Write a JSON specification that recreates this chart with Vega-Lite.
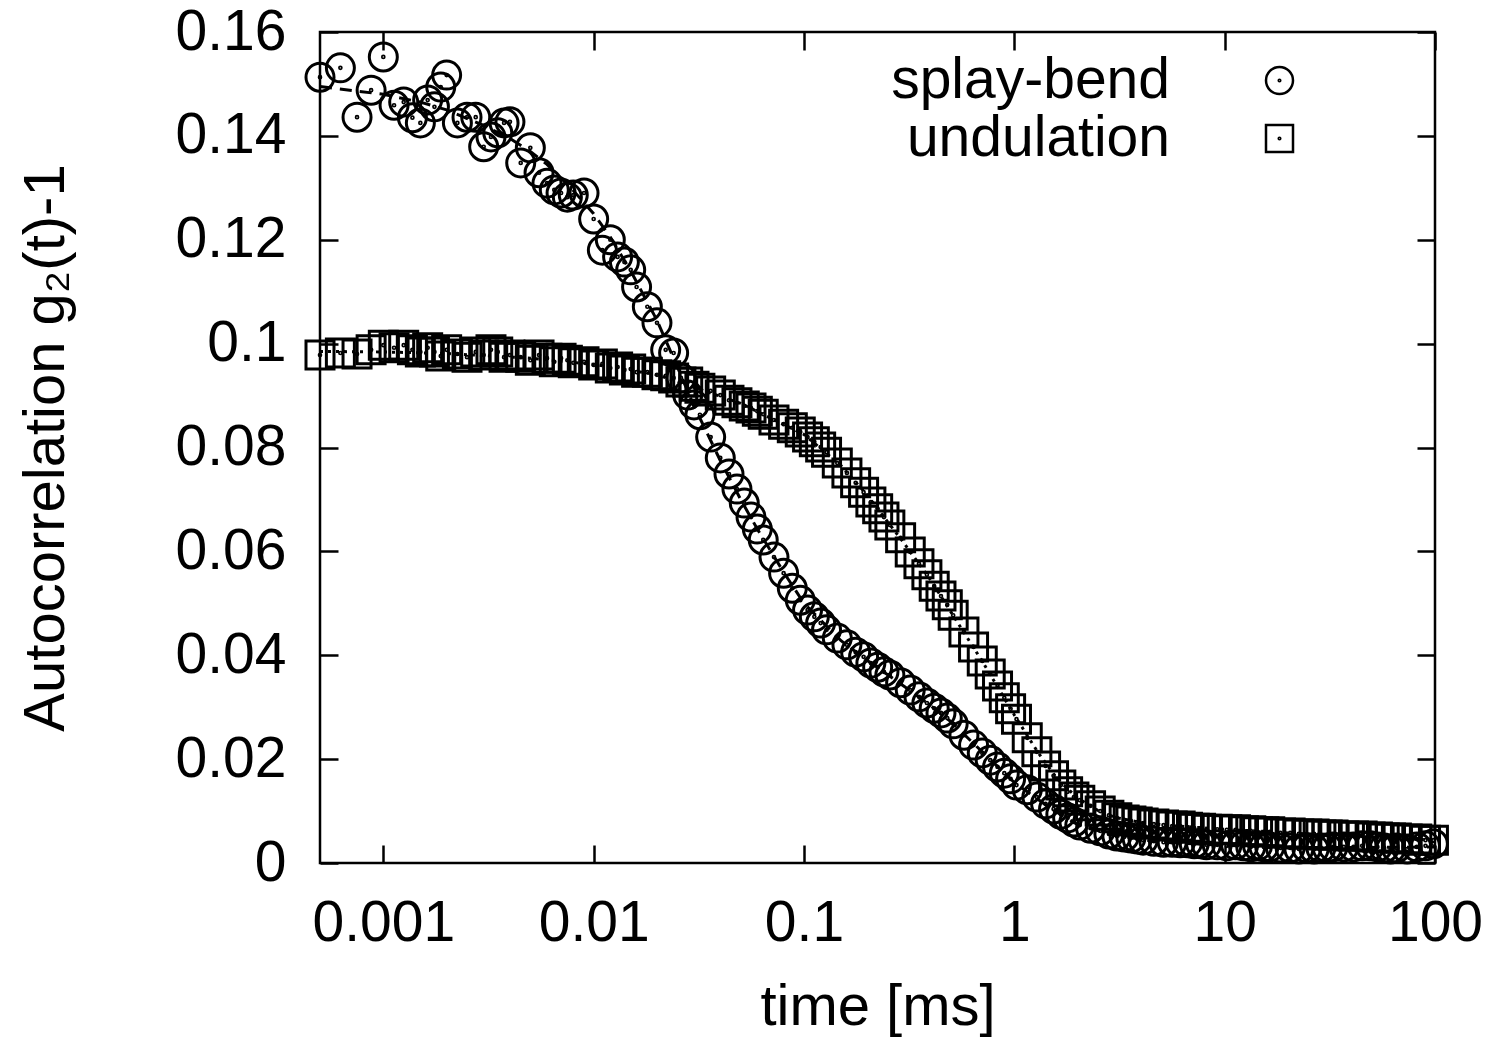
{
"$schema": "https://vega.github.io/schema/vega-lite/v6.json",
"width": 1115, "height": 831,
"autosize": "none",
"padding": {"left": 320, "top": 32, "right": 59, "bottom": 186},
"background": "white",
"config": {
 "view": {"stroke": "black", "strokeWidth": 2.5},
 "font": "Liberation Sans",
 "axis": {"grid": false, "domain": false, "tickColor": "black", "tickWidth": 2.5, "tickSize": -18, "labelColor": "black", "titleColor": "black", "labelFont": "Liberation Sans", "titleFont": "Liberation Sans", "labelFontSize": 57, "titleFontSize": 58, "titleFontWeight": "normal", "labelFlush": false, "labelOverlap": false},
 "legend": {"labelFont": "Liberation Sans", "labelFontSize": 57, "labelColor": "black", "labelLimit": 500}
},
"datasets": {
 "pts": [
 {"series":"splay-bend","t":0.0005,"g":0.1513},{"series":"splay-bend","t":0.000625,"g":0.1531},{"series":"splay-bend","t":0.00075,"g":0.1436},{"series":"splay-bend","t":0.000875,"g":0.1488},{"series":"splay-bend","t":0.001,"g":0.1552},{"series":"splay-bend","t":0.001125,"g":0.1459},{"series":"splay-bend","t":0.00125,"g":0.1465},{"series":"splay-bend","t":0.001375,"g":0.1435},{"series":"splay-bend","t":0.0015,"g":0.1425},{"series":"splay-bend","t":0.001625,"g":0.1469},{"series":"splay-bend","t":0.00175,"g":0.1456},{"series":"splay-bend","t":0.001875,"g":0.1494},{"series":"splay-bend","t":0.002,"g":0.1517},
 {"series":"splay-bend","t":0.00225,"g":0.1425},{"series":"splay-bend","t":0.0025,"g":0.1436},{"series":"splay-bend","t":0.00275,"g":0.1436},{"series":"splay-bend","t":0.003,"g":0.1379},{"series":"splay-bend","t":0.00325,"g":0.1398},{"series":"splay-bend","t":0.0035,"g":0.1406},{"series":"splay-bend","t":0.00375,"g":0.1425},{"series":"splay-bend","t":0.004,"g":0.1427},
 {"series":"splay-bend","t":0.0045,"g":0.1348},{"series":"splay-bend","t":0.005,"g":0.1377},{"series":"splay-bend","t":0.0055,"g":0.1329},{"series":"splay-bend","t":0.006,"g":0.1309},{"series":"splay-bend","t":0.0065,"g":0.1296},{"series":"splay-bend","t":0.007,"g":0.129},{"series":"splay-bend","t":0.0075,"g":0.1282},{"series":"splay-bend","t":0.008,"g":0.1286},
 {"series":"splay-bend","t":0.009,"g":0.129},{"series":"splay-bend","t":0.01,"g":0.124},{"series":"splay-bend","t":0.011,"g":0.118},{"series":"splay-bend","t":0.012,"g":0.12},{"series":"splay-bend","t":0.013,"g":0.1167},{"series":"splay-bend","t":0.014,"g":0.1157},{"series":"splay-bend","t":0.015,"g":0.1142},{"series":"splay-bend","t":0.016,"g":0.1109},
 {"series":"splay-bend","t":0.018,"g":0.1071},{"series":"splay-bend","t":0.02,"g":0.104},{"series":"splay-bend","t":0.022,"g":0.0988},{"series":"splay-bend","t":0.024,"g":0.0982},{"series":"splay-bend","t":0.026,"g":0.0934},{"series":"splay-bend","t":0.028,"g":0.0901},{"series":"splay-bend","t":0.03,"g":0.0882},{"series":"splay-bend","t":0.032,"g":0.0863},
 {"series":"splay-bend","t":0.036,"g":0.082},{"series":"splay-bend","t":0.04,"g":0.078},{"series":"splay-bend","t":0.044,"g":0.0749},{"series":"splay-bend","t":0.048,"g":0.072},{"series":"splay-bend","t":0.052,"g":0.0693},{"series":"splay-bend","t":0.056,"g":0.0666},{"series":"splay-bend","t":0.06,"g":0.0643},{"series":"splay-bend","t":0.064,"g":0.0622},
 {"series":"splay-bend","t":0.072,"g":0.0589},{"series":"splay-bend","t":0.08,"g":0.0558},{"series":"splay-bend","t":0.088,"g":0.0529},{"series":"splay-bend","t":0.096,"g":0.0506},{"series":"splay-bend","t":0.104,"g":0.0487},{"series":"splay-bend","t":0.112,"g":0.0474},{"series":"splay-bend","t":0.12,"g":0.0462},{"series":"splay-bend","t":0.128,"g":0.0449},
 {"series":"splay-bend","t":0.144,"g":0.0433},{"series":"splay-bend","t":0.16,"g":0.042},{"series":"splay-bend","t":0.176,"g":0.0406},{"series":"splay-bend","t":0.192,"g":0.0397},{"series":"splay-bend","t":0.208,"g":0.0385},{"series":"splay-bend","t":0.224,"g":0.0377},{"series":"splay-bend","t":0.24,"g":0.0368},{"series":"splay-bend","t":0.256,"g":0.0362},
 {"series":"splay-bend","t":0.288,"g":0.0347},{"series":"splay-bend","t":0.32,"g":0.0333},{"series":"splay-bend","t":0.352,"g":0.032},{"series":"splay-bend","t":0.384,"g":0.0308},{"series":"splay-bend","t":0.416,"g":0.0298},{"series":"splay-bend","t":0.448,"g":0.0289},{"series":"splay-bend","t":0.48,"g":0.0279},{"series":"splay-bend","t":0.512,"g":0.0268},
 {"series":"splay-bend","t":0.576,"g":0.0246},{"series":"splay-bend","t":0.64,"g":0.0227},{"series":"splay-bend","t":0.704,"g":0.0212},{"series":"splay-bend","t":0.768,"g":0.0198},{"series":"splay-bend","t":0.832,"g":0.0185},{"series":"splay-bend","t":0.896,"g":0.0173},{"series":"splay-bend","t":0.96,"g":0.0162},{"series":"splay-bend","t":1.024,"g":0.015},
 {"series":"splay-bend","t":1.152,"g":0.0141},{"series":"splay-bend","t":1.28,"g":0.0127},{"series":"splay-bend","t":1.408,"g":0.0114},{"series":"splay-bend","t":1.536,"g":0.0104},{"series":"splay-bend","t":1.664,"g":0.0094},{"series":"splay-bend","t":1.792,"g":0.0087},{"series":"splay-bend","t":1.92,"g":0.0079},{"series":"splay-bend","t":2.048,"g":0.0073},
 {"series":"splay-bend","t":2.304,"g":0.0067},{"series":"splay-bend","t":2.56,"g":0.0062},{"series":"splay-bend","t":2.816,"g":0.0056},{"series":"splay-bend","t":3.072,"g":0.0052},{"series":"splay-bend","t":3.328,"g":0.005},{"series":"splay-bend","t":3.584,"g":0.0048},{"series":"splay-bend","t":3.84,"g":0.0046},{"series":"splay-bend","t":4.096,"g":0.0044},
 {"series":"splay-bend","t":4.608,"g":0.0042},{"series":"splay-bend","t":5.12,"g":0.004},{"series":"splay-bend","t":5.632,"g":0.004},{"series":"splay-bend","t":6.144,"g":0.0039},{"series":"splay-bend","t":6.656,"g":0.0039},{"series":"splay-bend","t":7.168,"g":0.0037},{"series":"splay-bend","t":7.68,"g":0.0037},{"series":"splay-bend","t":8.192,"g":0.0035},
 {"series":"splay-bend","t":9.216,"g":0.0035},{"series":"splay-bend","t":10.24,"g":0.0033},{"series":"splay-bend","t":11.264,"g":0.0035},{"series":"splay-bend","t":12.288,"g":0.0033},{"series":"splay-bend","t":13.312,"g":0.0031},{"series":"splay-bend","t":14.336,"g":0.0033},{"series":"splay-bend","t":15.36,"g":0.0031},{"series":"splay-bend","t":16.384,"g":0.0031},
 {"series":"splay-bend","t":18.432,"g":0.0029},{"series":"splay-bend","t":20.48,"g":0.0029},{"series":"splay-bend","t":22.528,"g":0.0027},{"series":"splay-bend","t":24.576,"g":0.0029},{"series":"splay-bend","t":26.624,"g":0.0027},{"series":"splay-bend","t":28.672,"g":0.0029},{"series":"splay-bend","t":30.72,"g":0.0029},{"series":"splay-bend","t":32.768,"g":0.0031},
 {"series":"splay-bend","t":36.864,"g":0.0031},{"series":"splay-bend","t":40.96,"g":0.0031},{"series":"splay-bend","t":45.056,"g":0.0033},{"series":"splay-bend","t":49.152,"g":0.0033},{"series":"splay-bend","t":53.248,"g":0.0031},{"series":"splay-bend","t":57.344,"g":0.0029},{"series":"splay-bend","t":61.44,"g":0.0027},{"series":"splay-bend","t":65.536,"g":0.0029},
 {"series":"splay-bend","t":73.728,"g":0.0027},{"series":"splay-bend","t":81.92,"g":0.0031},{"series":"splay-bend","t":90.112,"g":0.0033},{"series":"splay-bend","t":98.304,"g":0.0037},

 {"series":"undulation","t":0.0005,"g":0.0978},{"series":"undulation","t":0.000625,"g":0.0982},{"series":"undulation","t":0.00075,"g":0.098},{"series":"undulation","t":0.000875,"g":0.0988},{"series":"undulation","t":0.001,"g":0.0997},{"series":"undulation","t":0.001125,"g":0.0992},{"series":"undulation","t":0.00125,"g":0.0997},{"series":"undulation","t":0.001375,"g":0.0988},{"series":"undulation","t":0.0015,"g":0.0984},{"series":"undulation","t":0.001625,"g":0.0992},{"series":"undulation","t":0.00175,"g":0.0984},{"series":"undulation","t":0.001875,"g":0.0976},{"series":"undulation","t":0.002,"g":0.0988},
 {"series":"undulation","t":0.00225,"g":0.098},{"series":"undulation","t":0.0025,"g":0.0974},{"series":"undulation","t":0.00275,"g":0.0984},{"series":"undulation","t":0.003,"g":0.0978},{"series":"undulation","t":0.00325,"g":0.0988},{"series":"undulation","t":0.0035,"g":0.0984},{"series":"undulation","t":0.00375,"g":0.0974},{"series":"undulation","t":0.004,"g":0.0978},
 {"series":"undulation","t":0.0045,"g":0.0974},{"series":"undulation","t":0.005,"g":0.0968},{"series":"undulation","t":0.0055,"g":0.0978},{"series":"undulation","t":0.006,"g":0.0972},{"series":"undulation","t":0.0065,"g":0.0965},{"series":"undulation","t":0.007,"g":0.0972},{"series":"undulation","t":0.0075,"g":0.0968},{"series":"undulation","t":0.008,"g":0.0963},
 {"series":"undulation","t":0.009,"g":0.0965},{"series":"undulation","t":0.01,"g":0.0959},{"series":"undulation","t":0.011,"g":0.0961},{"series":"undulation","t":0.012,"g":0.0953},{"series":"undulation","t":0.013,"g":0.0955},{"series":"undulation","t":0.014,"g":0.0949},{"series":"undulation","t":0.015,"g":0.0951},{"series":"undulation","t":0.016,"g":0.0945},
 {"series":"undulation","t":0.018,"g":0.0945},{"series":"undulation","t":0.02,"g":0.094},{"series":"undulation","t":0.022,"g":0.0938},{"series":"undulation","t":0.024,"g":0.0934},{"series":"undulation","t":0.026,"g":0.0926},{"series":"undulation","t":0.028,"g":0.0926},{"series":"undulation","t":0.03,"g":0.0918},{"series":"undulation","t":0.032,"g":0.0914},
 {"series":"undulation","t":0.036,"g":0.0909},{"series":"undulation","t":0.04,"g":0.0901},{"series":"undulation","t":0.044,"g":0.0891},{"series":"undulation","t":0.048,"g":0.0886},{"series":"undulation","t":0.052,"g":0.088},{"series":"undulation","t":0.056,"g":0.0876},{"series":"undulation","t":0.06,"g":0.087},{"series":"undulation","t":0.064,"g":0.0864},
 {"series":"undulation","t":0.072,"g":0.0853},{"series":"undulation","t":0.08,"g":0.0845},{"series":"undulation","t":0.088,"g":0.0838},{"series":"undulation","t":0.096,"g":0.083},{"series":"undulation","t":0.104,"g":0.082},{"series":"undulation","t":0.112,"g":0.0811},{"series":"undulation","t":0.12,"g":0.0801},{"series":"undulation","t":0.128,"g":0.0791},
 {"series":"undulation","t":0.144,"g":0.077},{"series":"undulation","t":0.16,"g":0.0751},{"series":"undulation","t":0.176,"g":0.0732},{"series":"undulation","t":0.192,"g":0.0714},{"series":"undulation","t":0.208,"g":0.0695},{"series":"undulation","t":0.224,"g":0.0682},{"series":"undulation","t":0.24,"g":0.0666},{"series":"undulation","t":0.256,"g":0.0651},
 {"series":"undulation","t":0.288,"g":0.0626},{"series":"undulation","t":0.32,"g":0.0599},{"series":"undulation","t":0.352,"g":0.0576},{"series":"undulation","t":0.384,"g":0.0555},{"series":"undulation","t":0.416,"g":0.0533},{"series":"undulation","t":0.448,"g":0.0514},{"series":"undulation","t":0.48,"g":0.0497},{"series":"undulation","t":0.512,"g":0.0477},
 {"series":"undulation","t":0.576,"g":0.0445},{"series":"undulation","t":0.64,"g":0.0416},{"series":"undulation","t":0.704,"g":0.0389},{"series":"undulation","t":0.768,"g":0.0364},{"series":"undulation","t":0.832,"g":0.0341},{"series":"undulation","t":0.896,"g":0.0318},{"series":"undulation","t":0.96,"g":0.0297},{"series":"undulation","t":1.024,"g":0.0277},
 {"series":"undulation","t":1.152,"g":0.0241},{"series":"undulation","t":1.28,"g":0.0214},{"series":"undulation","t":1.408,"g":0.0187},{"series":"undulation","t":1.536,"g":0.0168},{"series":"undulation","t":1.664,"g":0.015},{"series":"undulation","t":1.792,"g":0.0137},{"series":"undulation","t":1.92,"g":0.0127},{"series":"undulation","t":2.048,"g":0.0121},
 {"series":"undulation","t":2.304,"g":0.011},{"series":"undulation","t":2.56,"g":0.01},{"series":"undulation","t":2.816,"g":0.0092},{"series":"undulation","t":3.072,"g":0.0087},{"series":"undulation","t":3.328,"g":0.0083},{"series":"undulation","t":3.584,"g":0.0081},{"series":"undulation","t":3.84,"g":0.0079},{"series":"undulation","t":4.096,"g":0.0077},
 {"series":"undulation","t":4.608,"g":0.0075},{"series":"undulation","t":5.12,"g":0.0073},{"series":"undulation","t":5.632,"g":0.0071},{"series":"undulation","t":6.144,"g":0.0071},{"series":"undulation","t":6.656,"g":0.0069},{"series":"undulation","t":7.168,"g":0.0067},{"series":"undulation","t":7.68,"g":0.0067},{"series":"undulation","t":8.192,"g":0.0065},
 {"series":"undulation","t":9.216,"g":0.0065},{"series":"undulation","t":10.24,"g":0.0064},{"series":"undulation","t":11.264,"g":0.0064},{"series":"undulation","t":12.288,"g":0.0062},{"series":"undulation","t":13.312,"g":0.0062},{"series":"undulation","t":14.336,"g":0.006},{"series":"undulation","t":15.36,"g":0.006},{"series":"undulation","t":16.384,"g":0.006},
 {"series":"undulation","t":18.432,"g":0.0058},{"series":"undulation","t":20.48,"g":0.0058},{"series":"undulation","t":22.528,"g":0.0056},{"series":"undulation","t":24.576,"g":0.0056},{"series":"undulation","t":26.624,"g":0.0056},{"series":"undulation","t":28.672,"g":0.0054},{"series":"undulation","t":30.72,"g":0.0054},{"series":"undulation","t":32.768,"g":0.0054},
 {"series":"undulation","t":36.864,"g":0.0052},{"series":"undulation","t":40.96,"g":0.0052},{"series":"undulation","t":45.056,"g":0.0052},{"series":"undulation","t":49.152,"g":0.005},{"series":"undulation","t":53.248,"g":0.005},{"series":"undulation","t":57.344,"g":0.0048},{"series":"undulation","t":61.44,"g":0.0048},{"series":"undulation","t":65.536,"g":0.0048},
 {"series":"undulation","t":73.728,"g":0.0046},{"series":"undulation","t":81.92,"g":0.0046},{"series":"undulation","t":90.112,"g":0.0044},{"series":"undulation","t":98.304,"g":0.0044}
 ],
 "fitSB": [
 {"t":0.0005,"g":0.1495},{"t":0.001,"g":0.148},{"t":0.0015,"g":0.1465},{"t":0.002,"g":0.145},{"t":0.003,"g":0.142},{"t":0.004,"g":0.1395},{"t":0.005,"g":0.137},{"t":0.006,"g":0.1345},{"t":0.008,"g":0.1295},{"t":0.01,"g":0.125},{"t":0.012,"g":0.1205},{"t":0.015,"g":0.114},{"t":0.02,"g":0.1045},{"t":0.025,"g":0.0955},{"t":0.03,"g":0.088},{"t":0.04,"g":0.0775},{"t":0.05,"g":0.07},{"t":0.06,"g":0.0643},{"t":0.08,"g":0.056},{"t":0.1,"g":0.05},{"t":0.15,"g":0.0428},{"t":0.2,"g":0.039},{"t":0.3,"g":0.034},{"t":0.4,"g":0.0303},{"t":0.5,"g":0.0272},{"t":0.7,"g":0.0215},{"t":1.0,"g":0.0155},{"t":1.5,"g":0.0104},{"t":2,"g":0.0074},{"t":3,"g":0.0053},{"t":5,"g":0.004},{"t":10,"g":0.0034},{"t":20,"g":0.003},{"t":50,"g":0.003},{"t":100,"g":0.0031}
 ],
 "fitUN": [
 {"t":0.0005,"g":0.0985},{"t":0.001,"g":0.0984},{"t":0.002,"g":0.0981},{"t":0.005,"g":0.0972},{"t":0.01,"g":0.096},{"t":0.02,"g":0.094},{"t":0.05,"g":0.0885},{"t":0.1,"g":0.0825},{"t":0.15,"g":0.0765},{"t":0.2,"g":0.0708},{"t":0.3,"g":0.0615},{"t":0.4,"g":0.0545},{"t":0.5,"g":0.0483},{"t":0.7,"g":0.039},{"t":1.0,"g":0.0285},{"t":1.3,"g":0.0212},{"t":1.6,"g":0.0162},{"t":2,"g":0.0125},{"t":2.5,"g":0.0101},{"t":3,"g":0.0088},{"t":4,"g":0.0078},{"t":6,"g":0.0071},{"t":10,"g":0.0065},{"t":20,"g":0.0058},{"t":50,"g":0.005},{"t":100,"g":0.0044}
 ]
},
"layer": [
 {
  "data": {"name": "fitSB"},
  "mark": {"type": "line", "color": "black", "strokeWidth": 3, "strokeDash": [12, 8]},
  "encoding": {
   "x": {"field": "t", "type": "quantitative", "scale": {"type": "log", "domain": [0.0005, 100], "nice": false},
     "axis": {"orient": "bottom", "values": [0.001, 0.01, 0.1, 1, 10, 100], "format": "~g", "title": "time [ms]", "labelPadding": 50, "titlePadding": 27}},
   "y": {"field": "g", "type": "quantitative", "scale": {"domain": [0, 0.16], "nice": false, "zero": false},
     "axis": {"orient": "left", "values": [0, 0.02, 0.04, 0.06, 0.08, 0.1, 0.12, 0.14, 0.16], "format": "~g", "title": "Autocorrelation g₂(t)-1", "labelPadding": 52, "titlePadding": 100}}
  }
 },
 {
  "data": {"name": "fitUN"},
  "mark": {"type": "line", "color": "black", "strokeWidth": 3, "strokeDash": [3, 5]},
  "encoding": {
   "x": {"field": "t", "type": "quantitative", "scale": {"type": "log", "domain": [0.0005, 100], "nice": false}, "axis": null},
   "y": {"field": "g", "type": "quantitative", "scale": {"domain": [0, 0.16], "nice": false, "zero": false}, "axis": null}
  }
 },
 {
  "data": {"name": "pts"},
  "mark": {"type": "point", "filled": false, "size": 784, "strokeWidth": 3, "color": "black", "opacity": 1},
  "encoding": {
   "x": {"field": "t", "type": "quantitative", "scale": {"type": "log", "domain": [0.0005, 100], "nice": false},
     "axis": {"orient": "top", "values": [0.001, 0.01, 0.1, 1, 10, 100], "labels": false, "title": null}},
   "y": {"field": "g", "type": "quantitative", "scale": {"domain": [0, 0.16], "nice": false, "zero": false},
     "axis": {"orient": "right", "values": [0, 0.02, 0.04, 0.06, 0.08, 0.1, 0.12, 0.14, 0.16], "labels": false, "title": null}},
   "shape": {"field": "series", "type": "nominal",
     "scale": {"domain": ["splay-bend", "undulation"], "range": ["M1,0A1,1,0,1,1,-1,0A1,1,0,1,1,1,0Z M0.06,0A0.06,0.06,0,1,1,-0.06,0A0.06,0.06,0,1,1,0.06,0Z", "M-1,-1H1V1H-1Z M0.06,0A0.06,0.06,0,1,1,-0.06,0A0.06,0.06,0,1,1,0.06,0Z"]},
     "legend": {"orient": "none", "legendX": 931, "legendY": 20, "title": null, "symbolSize": 729, "symbolStrokeWidth": 2.5, "symbolStrokeColor": "black", "symbolFillColor": "transparent", "labelAlign": "right", "labelOffset": -138, "labelLimit": 500, "rowPadding": 0}}
  }
 }
],
"resolve": {"axis": {"x": "independent", "y": "independent"}}
}
